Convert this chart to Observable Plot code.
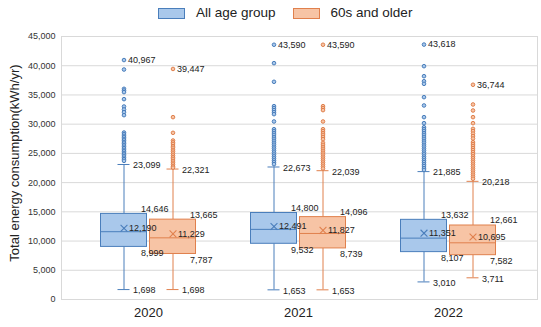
<!DOCTYPE html>
<html><head><meta charset="utf-8">
<script src="https://cdn.jsdelivr.net/npm/d3@7"></script>
<script src="https://cdn.jsdelivr.net/npm/@observablehq/plot@0.6"></script>
<style>
body{margin:0;background:#fff;font-family:"Liberation Sans",Arial,sans-serif;}
#wrap{position:relative;width:541px;height:327px;overflow:hidden;}
#legend{position:absolute;top:6px;left:158px;display:flex;align-items:center;font-size:13.5px;color:#222;line-height:14px;}
#legend .sw{width:25px;height:9px;border:1px solid;margin-right:11px;}
#legend .lb{margin-right:17px;}
#chart{position:absolute;top:0;left:0;}
</style></head><body>
<div id="wrap"><div id="legend"></div><div id="chart"></div></div>
<script>
const years = ["2020", "2021", "2022"];
const seriesNames = ["All age group", "60s and older"];
const yTicks = [0, 5000, 10000, 15000, 20000, 25000, 30000, 35000, 40000, 45000];
const yTitle = "Total energy consumption(kWh/yr)";

// All age group
const allMin    = [1698, 1653, 3010];
const allQ1     = [8999, 9532, 8107];
const allMedian = [11600, 12000, 10500];
const allMean   = [12190, 12491, 11351];
const allQ3     = [14646, 14800, 13632];
const allUpper  = [23099, 22673, 21885];
const allOutliers2020 = [40967, 39350, 36050, 35760, 35480, 34280, 33020, 32510, 32050, 31540, 28570, 28310, 28000, 27760, 27470, 27230, 26940, 26700, 26430, 26150, 25900, 25610, 25360, 25070, 24820, 24560, 24260, 24010, 23720];
const allOutliers2021 = [43590, 40440, 37250, 33080, 32740, 32400, 32050, 31710, 30460, 29140, 28820, 28480, 28160, 27800, 27490, 27150, 26810, 26490, 26140, 25830, 25480, 25160, 24810, 24490, 24150, 23810, 23490, 23160];
const allOutliers2022 = [43618, 39920, 38210, 37350, 36900, 34620, 33200, 31200, 30170, 29480, 29140, 28830, 28470, 28160, 27810, 27490, 27140, 26830, 26470, 26160, 25810, 25490, 25140, 24830, 24470, 24160, 23810, 23490, 23140, 22830, 22470, 22160];

// 60s and older
const oldMin    = [1698, 1653, 3711];
const oldQ1     = [7787, 8739, 7582];
const oldMedian = [10550, 11300, 9700];
const oldMean   = [11229, 11827, 10695];
const oldQ3     = [13665, 14096, 12661];
const oldUpper  = [22321, 22039, 20218];
const oldOutliers2020 = [39447, 31200, 28520, 27200, 26890, 26610, 26240, 25960, 25600, 25310, 24990, 24660, 24340, 24060, 23710, 23400, 23110, 22790, 22560];
const oldOutliers2021 = [43590, 33080, 32740, 32400, 30460, 29140, 28810, 28470, 28160, 27800, 27430, 26800, 26460, 26100, 25780, 25440, 25110, 24780, 24440, 24110, 23780, 23440, 23110, 22760, 22420];
const oldOutliers2022 = [36744, 33370, 32340, 31200, 30170, 29200, 28810, 28390, 27960, 27550, 26920, 26590, 26260, 25900, 25560, 25200, 24860, 24490, 24160, 23790, 23460, 23100, 22760, 22390, 22060, 21700, 21360, 21010, 20660];

const blueFill = "#a9c8eb", blueStroke = "#4a7ebb";
const orangeFill = "#f7c4a5", orangeStroke = "#e0804d";

const fmt = d3.format(",");

function statsRows(min, q1, med, mean, q3, up, outs) {
  return years.map((y, i) => ({year: y, min: min[i], q1: q1[i], median: med[i], mean: mean[i], q3: q3[i], upper: up[i], max: d3.max(outs[i])}));
}
function outlierRows(outs) {
  return years.flatMap((y, i) => outs[i].map(v => ({year: y, value: v})));
}
const series = [
  {name: seriesNames[0], fill: blueFill, stroke: blueStroke, off: -24.5,
   stats: statsRows(allMin, allQ1, allMedian, allMean, allQ3, allUpper, [allOutliers2020, allOutliers2021, allOutliers2022]),
   outs: outlierRows([allOutliers2020, allOutliers2021, allOutliers2022])},
  {name: seriesNames[1], fill: orangeFill, stroke: orangeStroke, off: 24.5,
   stats: statsRows(oldMin, oldQ1, oldMedian, oldMean, oldQ3, oldUpper, [oldOutliers2020, oldOutliers2021, oldOutliers2022]),
   outs: outlierRows([oldOutliers2020, oldOutliers2021, oldOutliers2022])}
];

const marks = [
  Plot.gridY(yTicks, {stroke: "#d9d9d9", strokeOpacity: 1}),
  Plot.frame({stroke: "#d9d9d9"}),
  Plot.axisY(yTicks, {tickSize: 0, tickPadding: 6, tickFormat: fmt, fontSize: 9, fill: "#333", label: null}),
  Plot.axisX({tickSize: 0, tickPadding: 8, fontSize: 13, fill: "#222", label: null}),
  Plot.text([yTitle], {frameAnchor: "left", textAnchor: "middle", rotate: -90, dx: -47, dy: -5, fontSize: 13, fill: "#222"})
];
const ts = {fontSize: 9, fill: "#222", textAnchor: "start"};
for (const s of series) {
  const o = s.off;
  marks.push(
    Plot.ruleX(s.stats, {x: "year", y1: "min", y2: "q1", stroke: s.stroke, dx: o}),
    Plot.ruleX(s.stats, {x: "year", y1: "q3", y2: "upper", stroke: s.stroke, dx: o}),
    Plot.tickY(s.stats, {x: "year", y: "min", stroke: s.stroke, insetLeft: 69, insetRight: 69, dx: o}),
    Plot.tickY(s.stats, {x: "year", y: "upper", stroke: s.stroke, insetLeft: 69, insetRight: 69, dx: o}),
    Plot.barY(s.stats, {x: "year", y1: "q1", y2: "q3", fill: s.fill, stroke: s.stroke, insetLeft: 52, insetRight: 52, dx: o}),
    Plot.tickY(s.stats, {x: "year", y: "median", stroke: s.stroke, insetLeft: 52, insetRight: 52, dx: o}),
    Plot.dot(s.outs, {x: "year", y: "value", r: 1.8, stroke: s.stroke, fill: s.fill, strokeWidth: 1, dx: o}),
    Plot.dot(s.stats, {x: "year", y: "mean", symbol: "times", r: 3.2, stroke: s.stroke, strokeWidth: 1.1, dx: o})
  );
}
for (const s of series) {
  const o = s.off;
  marks.push(
    Plot.text(s.stats, {x: "year", y: "max", text: d => fmt(d.max), dx: o + 4, ...ts}),
    Plot.text(s.stats, {x: "year", y: "upper", text: d => fmt(d.upper), dx: o + 9, dy: 1, ...ts}),
    Plot.text(s.stats, {x: "year", y: "q3", text: d => fmt(d.q3), dx: o + 17, dy: -5, ...ts}),
    Plot.text(s.stats, {x: "year", y: "mean", text: d => fmt(d.mean), dx: o + 5, ...ts}),
    Plot.text(s.stats, {x: "year", y: "q1", text: d => fmt(d.q1), dx: o + 17, dy: 6, ...ts}),
    Plot.text(s.stats, {x: "year", y: "min", text: d => fmt(d.min), dx: o + 9, dy: 1, ...ts})
  );
}

const chart = Plot.plot({
  width: 541, height: 327,
  marginTop: 36, marginBottom: 28, marginLeft: 61, marginRight: 4,
  style: {fontFamily: "'Liberation Sans', Arial, sans-serif", background: "transparent"},
  x: {type: "band", domain: years, range: [73, 523], padding: 0},
  y: {domain: [0, 45000]},
  marks
});
document.getElementById("chart").appendChild(chart);

const lg = document.getElementById("legend");
series.forEach(s => {
  const sw = document.createElement("span"); sw.className = "sw";
  sw.style.background = s.fill; sw.style.borderColor = s.stroke;
  const lb = document.createElement("span"); lb.className = "lb"; lb.textContent = s.name;
  lg.appendChild(sw); lg.appendChild(lb);
});
</script>
</body></html>
